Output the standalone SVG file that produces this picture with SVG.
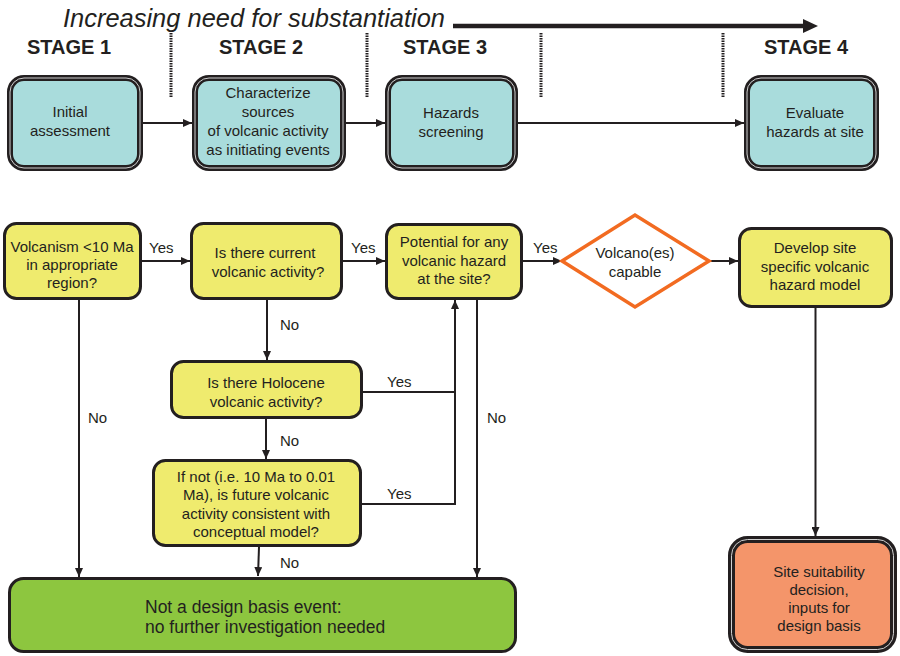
<svg xmlns="http://www.w3.org/2000/svg" width="900" height="656" viewBox="0 0 900 656">
<defs>
<marker id="ah" markerUnits="userSpaceOnUse" markerWidth="10" markerHeight="8" refX="9" refY="4" orient="auto">
<path d="M0,0 L9,4 L0,8 z" fill="#231f20"/>
</marker>
<style>
text{font-family:"Liberation Sans",Arial,sans-serif;fill:#231f20;}
.t{font-size:15px;text-anchor:middle;}
.lbl{font-size:15px;}
.stage{font-size:20px;font-weight:bold;text-anchor:middle;}
.teal{fill:#a9dcdc;stroke:#231f20;stroke-width:6;}
.inner{fill:none;stroke:#cfcfcf;stroke-width:1;}
.yel{fill:#efeb6e;stroke:#231f20;stroke-width:3;}
.con{fill:none;stroke:#231f20;stroke-width:2;}
.dot{stroke:#231f20;stroke-width:3;stroke-dasharray:1.5,1;}
</style>
</defs>
<rect width="900" height="656" fill="#fff"/>

<g id="header">
<text x="63" y="27" font-size="25" font-style="italic" textLength="382" lengthAdjust="spacingAndGlyphs">Increasing need for substantiation</text>
<line x1="453" y1="26" x2="805" y2="26" stroke="#231f20" stroke-width="4.5"/>
<path d="M803,19 L818,26 L803,33 z" fill="#231f20"/>
<line class="dot" x1="171" y1="33" x2="171" y2="97"/>
<line class="dot" x1="367" y1="33" x2="367" y2="97"/>
<line class="dot" x1="541" y1="33" x2="541" y2="97"/>
<line class="dot" x1="723" y1="33" x2="723" y2="97"/>
<text class="stage" x="69" y="54">STAGE 1</text>
<text class="stage" x="261" y="54">STAGE 2</text>
<text class="stage" x="445" y="54">STAGE 3</text>
<text class="stage" x="806" y="54">STAGE 4</text>
</g>

<g id="connectors">
<path class="con" d="M143,123 H192" marker-end="url(#ah)"/>
<path class="con" d="M346,123 H385" marker-end="url(#ah)"/>
<path class="con" d="M518,123 H744" marker-end="url(#ah)"/>
<path class="con" d="M142,261 H190" marker-end="url(#ah)"/>
<path class="con" d="M343,261 H385" marker-end="url(#ah)"/>
<path class="con" d="M523,261 H562" marker-end="url(#ah)"/>
<path class="con" d="M709,261 H738" marker-end="url(#ah)"/>
<path class="con" d="M815.5,308 V536" marker-end="url(#ah)"/>
<path class="con" d="M267,300 V360" marker-end="url(#ah)"/>
<path class="con" d="M266,419 V459" marker-end="url(#ah)"/>
<path class="con" d="M259,547 L258,576" marker-end="url(#ah)"/>
<path class="con" d="M79,300 V577" marker-end="url(#ah)"/>
<path class="con" d="M477,300 V577" marker-end="url(#ah)"/>
<path class="con" d="M363,392 H455"/>
<path class="con" d="M362,504 H455 V300" marker-end="url(#ah)"/>
<text class="lbl" x="149" y="253">Yes</text>
<text class="lbl" x="351" y="253">Yes</text>
<text class="lbl" x="533" y="253">Yes</text>
<text class="lbl" x="280" y="330">No</text>
<text class="lbl" x="387" y="387">Yes</text>
<text class="lbl" x="280" y="446">No</text>
<text class="lbl" x="387" y="499">Yes</text>
<text class="lbl" x="280" y="568">No</text>
<text class="lbl" x="88" y="423">No</text>
<text class="lbl" x="487" y="423">No</text>
</g>

<g id="n-initial">
<rect class="teal" x="10" y="78" width="130" height="90" rx="14"/>
<rect class="inner" x="10" y="78" width="130" height="90" rx="14"/>
<text class="t" x="70" y="117">Initial</text>
<text class="t" x="70" y="136">assessment</text>
</g>
<g id="n-characterize">
<rect class="teal" x="195" y="78" width="148" height="90" rx="14"/>
<rect class="inner" x="195" y="78" width="148" height="90" rx="14"/>
<text class="t" x="268" y="98">Characterize</text>
<text class="t" x="268" y="117">sources</text>
<text class="t" x="268" y="136">of volcanic activity</text>
<text class="t" x="268" y="155">as initiating events</text>
</g>
<g id="n-screening">
<rect class="teal" x="388" y="78" width="127" height="90" rx="14"/>
<rect class="inner" x="388" y="78" width="127" height="90" rx="14"/>
<text class="t" x="451" y="118">Hazards</text>
<text class="t" x="451" y="137">screening</text>
</g>
<g id="n-evaluate">
<rect class="teal" x="747" y="78" width="129" height="90" rx="14"/>
<rect class="inner" x="747" y="78" width="129" height="90" rx="14"/>
<text class="t" x="815" y="118">Evaluate</text>
<text class="t" x="815" y="137">hazards at site</text>
</g>

<g id="n-volcanism">
<rect class="yel" x="4.5" y="223.5" width="136" height="75" rx="12"/>
<text class="t" x="72" y="252">Volcanism &lt;10 Ma</text>
<text class="t" x="72" y="270">in appropriate</text>
<text class="t" x="72" y="288">region?</text>
</g>
<g id="n-current">
<rect class="yel" x="191.5" y="223.5" width="150" height="75" rx="12"/>
<text class="t" x="265" y="258">Is there current</text>
<text class="t" x="268" y="277">volcanic activity?</text>
</g>
<g id="n-potential">
<rect class="yel" x="386.5" y="224.5" width="135" height="74" rx="12"/>
<text class="t" x="454" y="247">Potential for any</text>
<text class="t" x="454" y="266">volcanic hazard</text>
<text class="t" x="454" y="284">at the site?</text>
</g>
<g id="n-capable">
<path d="M562,261 L635,215 L709,261 L635,307 z" fill="#fff" stroke="#f26b21" stroke-width="3.5" stroke-linejoin="miter"/>
<text class="t" x="635" y="258">Volcano(es)</text>
<text class="t" x="635" y="277">capable</text>
</g>
<g id="n-develop">
<rect class="yel" x="739.5" y="228.5" width="152" height="78" rx="12"/>
<text class="t" x="815" y="253">Develop site</text>
<text class="t" x="815" y="272">specific volcanic</text>
<text class="t" x="815" y="290">hazard model</text>
</g>
<g id="n-holocene">
<rect class="yel" x="171.5" y="361.5" width="190" height="56" rx="12"/>
<text class="t" x="266" y="388">Is there Holocene</text>
<text class="t" x="266" y="407">volcanic activity?</text>
</g>
<g id="n-future">
<rect class="yel" x="153.5" y="460.5" width="207" height="85" rx="12"/>
<text class="t" x="256" y="482">If not (i.e. 10 Ma to 0.01</text>
<text class="t" x="256" y="500">Ma), is future volcanic</text>
<text class="t" x="256" y="519">activity consistent with</text>
<text class="t" x="256" y="537">conceptual model?</text>
</g>
<g id="n-notdesign">
<rect x="9.5" y="578.5" width="506" height="73" rx="14" fill="#8dc63f" stroke="#231f20" stroke-width="3"/>
<text font-size="17.5" x="145" y="613">Not a design basis event:</text>
<text font-size="17.5" x="145" y="633">no further investigation needed</text>
</g>
<g id="n-suitability">
<rect x="731.5" y="539.5" width="162" height="110" rx="16" fill="#f4956a" stroke="#231f20" stroke-width="7"/>
<rect x="731.5" y="539.5" width="162" height="110" rx="16" fill="none" stroke="#cfcfcf" stroke-width="1"/>
<text class="t" x="819" y="577">Site suitability</text>
<text class="t" x="819" y="595">decision,</text>
<text class="t" x="819" y="613">inputs for</text>
<text class="t" x="819" y="631">design basis</text>
</g>
</svg>
